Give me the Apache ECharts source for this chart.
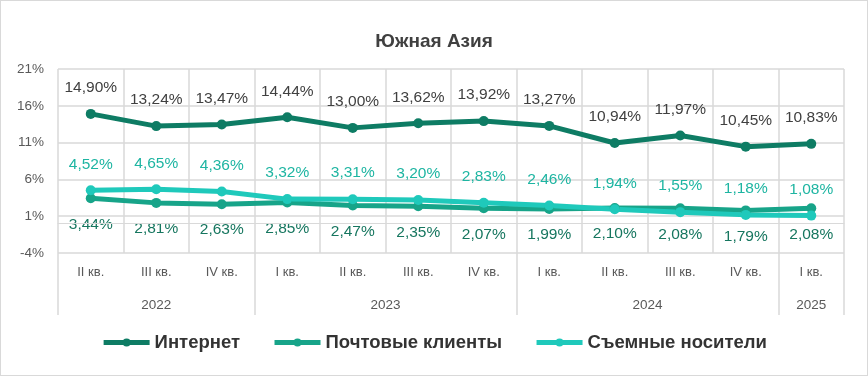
<!DOCTYPE html>
<html>
  <head>
    <meta charset="utf-8">
    <title>Южная Азия</title>
    <style>
      html, body { margin: 0; padding: 0; background: #fff; }
      #main { width: 866px; height: 374px; border: 1px solid #d9d9d9; }
    </style>
  </head>
  <body>
    <div id="main"></div>
  </body>
  <script type="text/javascript" src="https://cdn.jsdelivr.net/npm/echarts@6/dist/echarts.min.js"></script>
  <script type="text/javascript">
      // данные
      var quarters = ['II кв.', 'III кв.', 'IV кв.', 'I кв.', 'II кв.', 'III кв.', 'IV кв.', 'I кв.', 'II кв.', 'III кв.', 'IV кв.', 'I кв.'];
      // подписи годов: 25 позиций на полушагах, подпись в центре группы
      var years = ['', '', '', '2022', '', '', '', '', '', '', '2023', '', '', '', '', '', '', '', '2024', '', '', '', '', '2025', ''];
      var yearBounds = [0, 6, 14, 22, 24];
      var internet = [14.90, 13.24, 13.47, 14.44, 13.00, 13.62, 13.92, 13.27, 10.94, 11.97, 10.45, 10.83];
      var mail = [3.44, 2.81, 2.63, 2.85, 2.47, 2.35, 2.07, 1.99, 2.10, 2.08, 1.79, 2.08];
      var removable = [4.52, 4.65, 4.36, 3.32, 3.31, 3.20, 2.83, 2.46, 1.94, 1.55, 1.18, 1.08];

      var myChart = echarts.init(document.getElementById('main'));
      var font = 'Liberation Sans, Arial, sans-serif';

      function pct(p) {
          return p.value.toFixed(2).replace('.', ',') + '%';
      }

      function line(name, data, color, labelColor, pos) {
          return {
              name: name,
              type: 'line',
              data: data,
              symbol: 'circle',
              symbolSize: 10,
              lineStyle: { width: 5, color: color },
              itemStyle: { color: color },
              label: {
                  show: true,
                  position: pos,
                  distance: 13,
                  color: labelColor,
                  fontSize: 15.5,
                  fontFamily: font,
                  formatter: pct
              }
          };
      }

      var series = [
          line('Интернет', internet, '#0e7c64', '#404040', 'top'),
          line('Почтовые клиенты', mail, '#17a489', '#16765f', 'bottom'),
          line('Съемные носители', removable, '#1fc9bb', '#1eb5a2', 'top')
      ];
      series[0].markLine = {
          silent: true,
          symbol: 'none',
          label: { show: false },
          lineStyle: { color: '#d9d9d9', width: 1, type: 'solid' },
          data: [{ yAxis: 0 }]
      };

      myChart.setOption({
          animation: false,
          title: {
              text: 'Южная Азия',
              left: 'center',
              top: 26,
              textStyle: { fontSize: 19, fontWeight: 'bold', color: '#404040', fontFamily: font }
          },
          legend: {
              bottom: 18,
              left: 'center',
              itemWidth: 46,
              itemHeight: 10,
              itemGap: 32,
              lineStyle: { width: 5 },
              textStyle: { fontSize: 18.5, fontWeight: 'bold', color: '#333', fontFamily: font },
              data: ['Интернет', 'Почтовые клиенты', 'Съемные носители']
          },
          grid: { left: 57, right: 23, top: 68, bottom: 122, containLabel: false },
          xAxis: [{
              type: 'category',
              data: quarters,
              axisLine: { lineStyle: { color: '#d9d9d9' } },
              axisTick: { show: false },
              splitLine: { show: true, lineStyle: { color: '#d9d9d9', width: 1.5 } },
              axisLabel: { color: '#595959', fontSize: 13, margin: 13, fontFamily: font }
          }, {
              type: 'category',
              data: years,
              position: 'bottom',
              boundaryGap: false,
              axisLine: { show: false },
              axisTick: {
                  show: true,
                  length: 62,
                  interval: function (i) { return yearBounds.indexOf(i) >= 0; },
                  lineStyle: { color: '#d9d9d9', width: 1.5 }
              },
              axisLabel: { interval: 0, color: '#595959', fontSize: 13.5, margin: 45, fontFamily: font }
          }],
          yAxis: {
              type: 'value',
              min: -4,
              max: 21,
              interval: 5,
              axisLine: { show: false },
              axisTick: { show: false },
              splitLine: { lineStyle: { color: '#d9d9d9', width: 1.5 } },
              axisLabel: { color: '#595959', fontSize: 13.5, margin: 14, fontFamily: font, formatter: '{value}%' }
          },
          series: series
      });
  </script>
</html>
